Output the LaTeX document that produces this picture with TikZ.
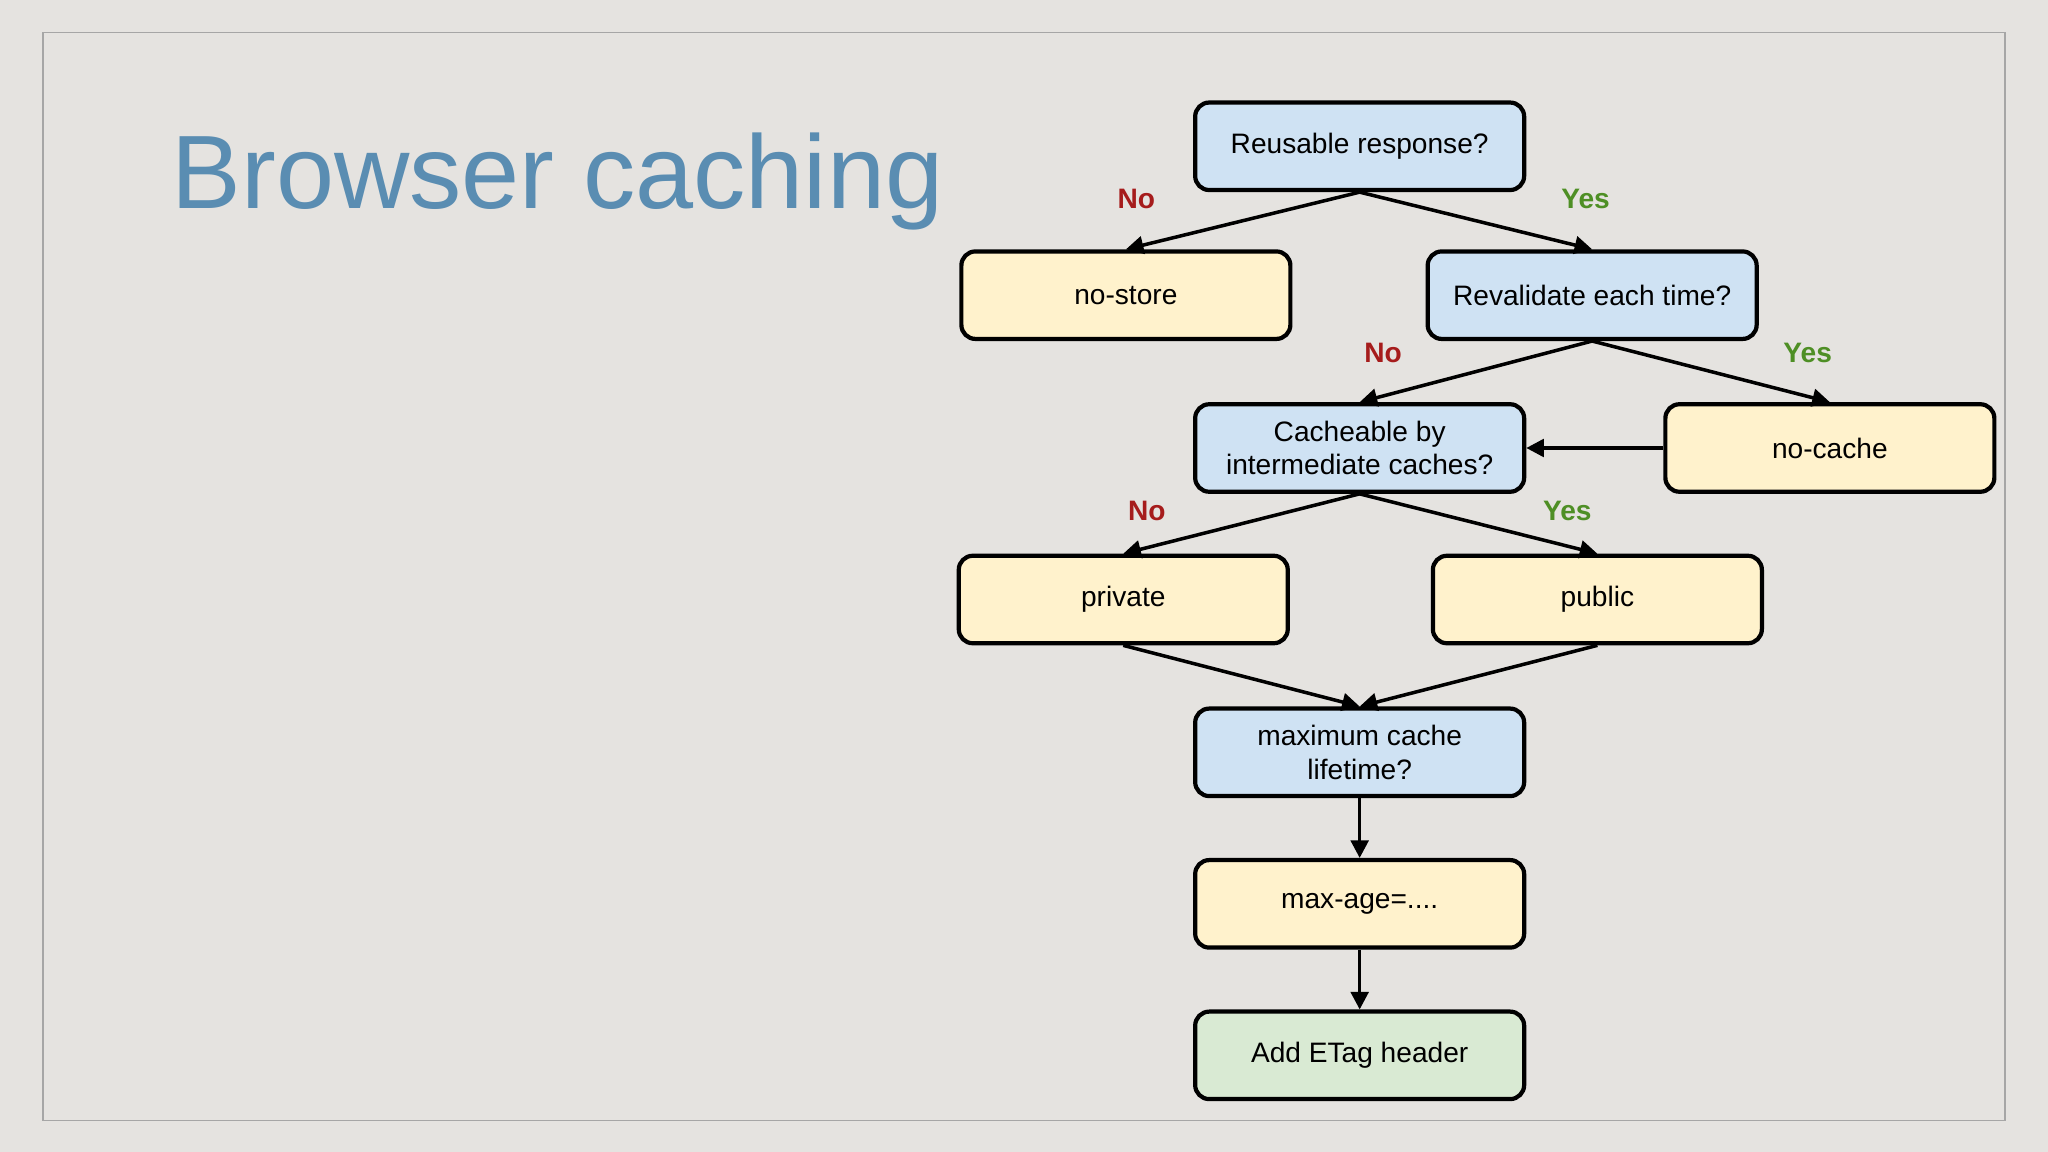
\documentclass[tikz,border=0pt]{standalone}
\usepackage{fontspec}
\setmainfont{Liberation Sans}
\usetikzlibrary{positioning,arrows.meta}
\definecolor{bgcol}{HTML}{E5E3E0}
\definecolor{qblue}{HTML}{CFE2F3}
\definecolor{ayellow}{HTML}{FFF2CC}
\definecolor{egreen}{HTML}{D9EAD3}
\definecolor{nored}{HTML}{A61C1C}
\definecolor{yesgreen}{HTML}{4E8F25}
\definecolor{titleblue}{HTML}{5A8DB2}

\begin{document}
\begin{tikzpicture}[
    x=0.01306cm,y=-0.01306cm,
    box/.style={rectangle,draw,line width=1.2pt,rounded corners=4pt,minimum width=3.29cm,minimum height=0.875cm,align=center,font=\fontsize{8}{9.5}\selectfont},
    question/.style={box,fill=qblue},
    answer/.style={box,fill=ayellow},
    final/.style={box,fill=egreen},
    no/.style={text=nored,font=\fontsize{8}{9}\selectfont\bfseries},
    yes/.style={text=yesgreen,font=\fontsize{8}{9}\selectfont\bfseries},
    arrow/.style={-{Triangle[length=5pt,width=5pt]},line width=1pt}
]

% Background and frame
\fill[bgcol] (0,0) rectangle (1568,882);
\useasboundingbox (0,0) rectangle (1568,882);
\draw[gray!70] (33,25) rectangle (1535,858);

% Title
\node[text=titleblue,font=\fontsize{29.7}{33}\selectfont,anchor=west] (title) at (122,139) {Browser caching};

% Questions and answers
\node[question] (reuse) at (1041,112) {Reusable response?};
\node[answer] (nostore) at (862,226) {no-store};
\node[question] (revalidate) at (1219,226) {Revalidate each time?};
\node[question] (cacheable) at (1041,343) {Cacheable by\\intermediate caches?};
\node[answer] (nocache) at (1401,343) {no-cache};
\node[answer] (private) at (860,459) {private};
\node[answer] (public) at (1223,459) {public};
\node[question] (lifetime) at (1041,576) {maximum cache\\lifetime?};
\node[answer] (maxage) at (1041,692) {max-age=....};
\node[final] (etag) at (1041,808) {Add ETag header};

% Labels
\node[no] (no1) at (870,152) {No};
\node[yes] (yes1) at (1214,152) {Yes};
\node[no] (no2) at (1059,270) {No};
\node[yes] (yes2) at (1384,270) {Yes};
\node[no] (no3) at (878,391) {No};
\node[yes] (yes3) at (1200,391) {Yes};

% Connectors
\draw[arrow] (reuse.south) -- (nostore.north);
\draw[arrow] (reuse.south) -- (revalidate.north);
\draw[arrow] (revalidate.south) -- (cacheable.north);
\draw[arrow] (revalidate.south) -- (nocache.north);
\draw[arrow] (nocache.west) -- (cacheable.east);
\draw[arrow] (cacheable.south) -- (private.north);
\draw[arrow] (cacheable.south) -- (public.north);
\draw[arrow] (private.south) -- (lifetime.north);
\draw[arrow] (public.south) -- (lifetime.north);
\draw[arrow] (lifetime) -- (maxage);
\draw[arrow] (maxage) -- (etag);

\end{tikzpicture}
\end{document}
